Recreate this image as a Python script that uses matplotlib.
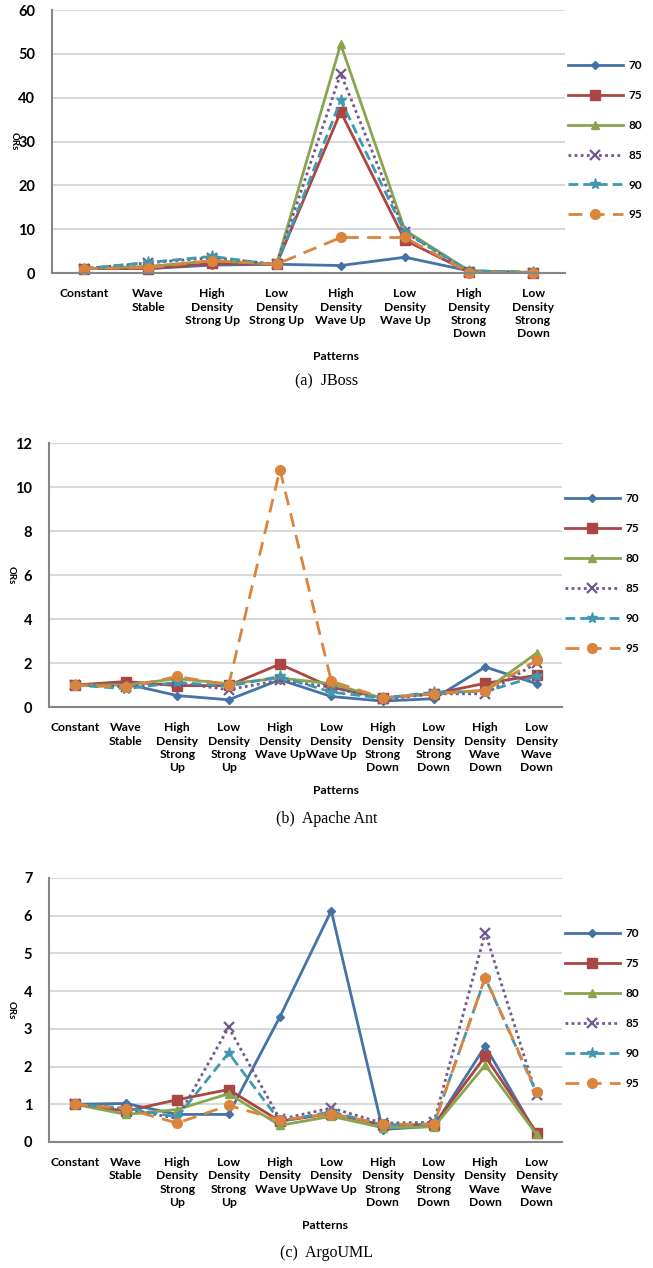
import matplotlib
matplotlib.use("Agg")
import matplotlib.pyplot as plt

plt.rcParams['font.family'] = ['Lato', 'DejaVu Sans']
plt.rcParams['font.weight'] = 'bold'

series_names = ["70", "75", "80", "85", "90", "95"]

# (a) JBoss
jboss_cats = ["Constant", "Wave\nStable", "High\nDensity\nStrong Up", "Low\nDensity\nStrong Up",
              "High\nDensity\nWave Up", "Low\nDensity\nWave Up", "High\nDensity\nStrong\nDown",
              "Low\nDensity\nStrong\nDown"]
jboss_70 = [1.0, 1.0, 1.8, 2.0, 1.7, 3.6, 0.5, 0.1]
jboss_75 = [1.0, 1.0, 2.2, 2.0, 36.8, 7.5, 0.2, 0.1]
jboss_80 = [1.0, 1.5, 2.8, 2.0, 52.2, 9.8, 0.5, 0.1]
jboss_85 = [1.0, 2.3, 3.5, 2.0, 45.5, 9.3, 0.3, 0.1]
jboss_90 = [1.0, 2.4, 3.8, 1.8, 39.4, 9.3, 0.5, 0.2]
jboss_95 = [1.0, 1.2, 2.8, 2.0, 8.1, 8.1, 0.1, 0.1]

# (b) Apache Ant
ant_cats = ["Constant", "Wave\nStable", "High\nDensity\nStrong\nUp", "Low\nDensity\nStrong\nUp",
            "High\nDensity\nWave Up", "Low\nDensity\nWave Up", "High\nDensity\nStrong\nDown",
            "Low\nDensity\nStrong\nDown", "High\nDensity\nWave\nDown", "Low\nDensity\nWave\nDown"]
ant_70 = [1.0, 1.05, 0.52, 0.33, 1.24, 0.48, 0.27, 0.38, 1.82, 1.06]
ant_75 = [1.0, 1.16, 0.97, 0.98, 1.95, 0.9, 0.42, 0.6, 1.08, 1.44]
ant_80 = [1.0, 1.0, 1.29, 1.06, 1.32, 1.06, 0.4, 0.62, 0.76, 2.45]
ant_85 = [1.0, 0.92, 1.1, 0.79, 1.22, 0.9, 0.35, 0.6, 0.6, 2.0]
ant_90 = [1.0, 0.83, 1.12, 0.95, 1.39, 0.68, 0.4, 0.68, 0.7, 1.4]
ant_95 = [1.0, 0.9, 1.39, 1.0, 10.79, 1.18, 0.42, 0.6, 0.75, 2.12]

# (c) ArgoUML
argo_cats = ant_cats
argo_70 = [1.0, 1.02, 0.73, 0.73, 3.32, 6.13, 0.33, 0.42, 2.54, 0.2]
argo_75 = [1.0, 0.82, 1.12, 1.39, 0.55, 0.75, 0.45, 0.45, 2.27, 0.25]
argo_80 = [1.0, 0.73, 0.86, 1.28, 0.44, 0.68, 0.38, 0.4, 2.04, 0.2]
argo_85 = [1.0, 0.88, 0.62, 3.04, 0.6, 0.9, 0.5, 0.52, 5.55, 1.24]
argo_90 = [1.0, 0.9, 0.66, 2.36, 0.55, 0.8, 0.45, 0.48, 4.35, 1.3]
argo_95 = [1.0, 0.88, 0.5, 0.97, 0.58, 0.75, 0.47, 0.47, 4.36, 1.33]

colors = ["#4572A7", "#AA4643", "#89A54E", "#71588F", "#4198AF", "#DB843D"]
markers = ["D", "s", "^", "x", "*", "o"]
msizes = [4, 7, 6, 7, 8, 7]
styles = ["-", "-", "-", (0, (1, 1.2)), (0, (3.5, 1.8)), (0, (5, 3))]


def draw_panel(ax, cats, data, ymax, ystep, xlab_pos, caption, cap_y):
    x = list(range(len(cats)))
    for vals, name, c, m, ms, ls in zip(data, series_names, colors, markers, msizes, styles):
        ax.plot(x, vals, color=c, marker=m, markersize=ms, linestyle=ls, linewidth=2.0,
                markeredgewidth=1.6 if m == "x" else 1.0, label=name, clip_on=False)
    ax.set_xlim(-0.5, len(cats) - 0.5)
    ax.set_ylim(0, ymax)
    ax.set_yticks(range(0, ymax + 1, ystep))
    ax.set_xticks(x)
    ax.set_xticklabels(cats, fontsize=8.7, fontweight='bold', linespacing=1.25)
    ax.tick_params(axis='x', length=0, pad=11)
    ax.tick_params(axis='y', length=0, pad=12, labelsize=10.5)
    ax.yaxis.grid(True, color="#D9D9D9", linewidth=1.5)
    ax.set_axisbelow(True)
    for s in ["top", "right"]:
        ax.spines[s].set_visible(False)
    for s in ["left", "bottom"]:
        ax.spines[s].set_color("#868686")
        ax.spines[s].set_linewidth(1.5)
    ax.set_ylabel("ORs", fontsize=7, fontweight='bold', rotation=270)
    ax.yaxis.set_label_coords(-0.082, 0.5)
    ax.set_xlabel("Patterns", fontsize=8.7, fontweight='bold')
    ax.xaxis.set_label_coords(xlab_pos[0], xlab_pos[1])
    ax.legend(loc="center left", bbox_to_anchor=(1.0, 0.505), frameon=False,
              handlelength=4.7, handletextpad=0.5, labelspacing=1.6, borderpad=0,
              borderaxespad=0.2, prop={'weight': 'bold', 'size': 8.5})
    fig.text(0.5, cap_y, caption, ha='center', va='center', fontsize=11.5,
             family='Liberation Serif', fontweight='normal')


fig = plt.figure(figsize=(6.53, 12.68), dpi=100)

ax1 = fig.add_axes([0.0796, 0.7847, 0.786, 0.2074])
draw_panel(ax1, jboss_cats, [jboss_70, jboss_75, jboss_80, jboss_85, jboss_90, jboss_95],
           60, 10, (0.553, -0.297), "(a)  JBoss", 1 - 381 / 1268)

ax2 = fig.add_axes([0.075, 0.4424, 0.786, 0.2082])
draw_panel(ax2, ant_cats, [ant_70, ant_75, ant_80, ant_85, ant_90, ant_95],
           12, 2, (0.559, -0.295), "(b)  Apache Ant", 1 - 819 / 1268)

ax3 = fig.add_axes([0.075, 0.0994, 0.786, 0.2082])
draw_panel(ax3, argo_cats, [argo_70, argo_75, argo_80, argo_85, argo_90, argo_95],
           7, 1, (0.538, -0.295), "(c)  ArgoUML", 1 - 1253 / 1268)

fig.savefig("out.png", dpi=100)
